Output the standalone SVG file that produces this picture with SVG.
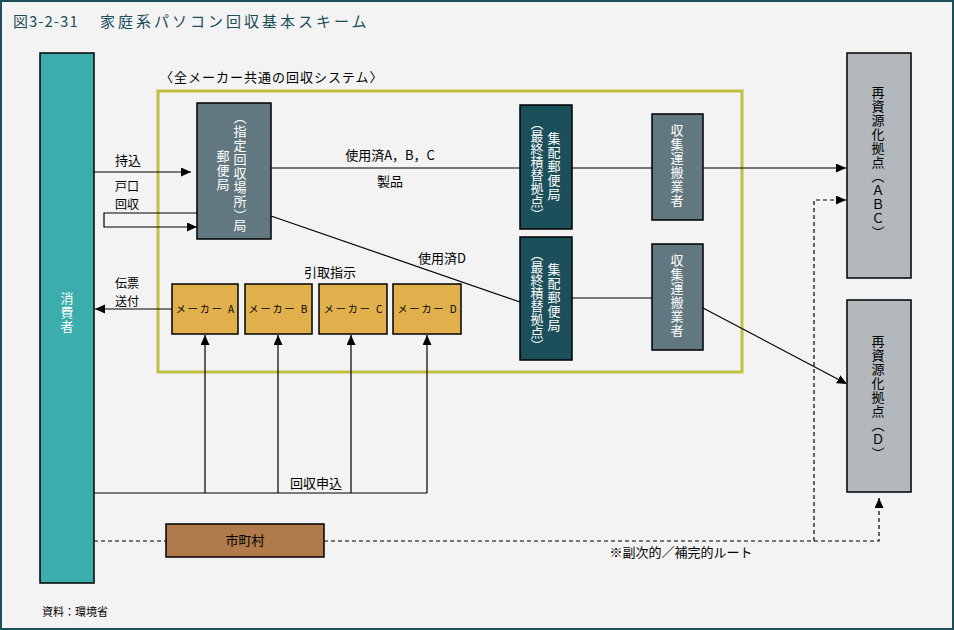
<svg xmlns="http://www.w3.org/2000/svg" width="954" height="630" viewBox="0 0 954 630">
<style>
text{font-family:"Noto Sans CJK JP","Noto Sans",sans-serif;fill:#000;}
.v{writing-mode:vertical-rl;font-size:13px;letter-spacing:1px;}
.w{fill:#fff;}
.h{font-size:13px;}
.s{font-size:12px;}
.box{stroke:#000;stroke-width:1.5;}
.ln{fill:none;stroke:#000;stroke-width:1.2;}
.dash{fill:none;stroke:#000;stroke-width:1.2;stroke-dasharray:4 3;}
.mk{font-size:10px;letter-spacing:2px;}
</style>
<defs>
<marker id="ah" markerUnits="userSpaceOnUse" markerWidth="12" markerHeight="10" refX="10" refY="4.5" orient="auto">
<path d="M0,0 L10,4.5 L0,9 z" fill="#000"/>
</marker>
</defs>
<rect x="1" y="1" width="952" height="628" fill="#f3f3f3" stroke="#1b4f5a" stroke-width="2"/>
<text x="13" y="27" style="font-size:15px;fill:#1b4f5a;letter-spacing:1px;">図3-2-31</text>
<text x="100" y="27" style="font-size:15px;fill:#1b4f5a;letter-spacing:3px;">家庭系パソコン回収基本スキーム</text>

<text x="160" y="82" class="h" style="letter-spacing:1px;">〈全メーカー共通の回収システム〉</text>
<rect id="system" x="158" y="91" width="584" height="281" fill="none" stroke="#c0c040" stroke-width="3"/>

<g id="consumer">
<rect x="40" y="53" width="54" height="530" fill="#3cadad" class="box"/>
<text x="67" y="292" class="v w">消費者</text>
</g>

<g id="postoffice">
<rect x="197" y="103" width="74" height="136" fill="#627880" class="box"/>
<text x="240" y="111" class="v w">（指定回収場所）</text>
<text x="240" y="219" class="v w">局</text>
<text x="223" y="150" class="v w">郵便局</text>
</g>

<g id="cpo1">
<rect x="520" y="105" width="52" height="124" fill="#1b4f5a" class="box"/>
<text x="554" y="132" class="v w">集配郵便局</text>
<text x="537" y="117" class="v w" style="letter-spacing:0px;">（最終積替拠点）</text>
</g>
<g id="cpo2">
<rect x="520" y="237" width="52" height="123" fill="#1b4f5a" class="box"/>
<text x="554" y="263" class="v w">集配郵便局</text>
<text x="537" y="248" class="v w" style="letter-spacing:0px;">（最終積替拠点）</text>
</g>

<g id="collector1">
<rect x="652" y="114" width="51" height="106" fill="#627880" class="box"/>
<text x="677" y="124" class="v w">収集運搬業者</text>
</g>
<g id="collector2">
<rect x="652" y="244" width="51" height="106" fill="#627880" class="box"/>
<text x="677" y="254" class="v w">収集運搬業者</text>
</g>

<g id="recycleABC">
<rect x="847" y="53" width="64" height="225" fill="#b2b8bb" class="box"/>
<text x="878" y="86" class="v">再資源化拠点（ＡＢＣ）</text>
</g>
<g id="recycleD">
<rect x="847" y="300" width="64" height="192" fill="#b2b8bb" class="box"/>
<text x="878" y="335" class="v">再資源化拠点（Ｄ）</text>
</g>

<g id="makerA"><rect x="172" y="284" width="66" height="50" fill="#e0b04c" class="box"/><text x="206" y="313" class="mk" text-anchor="middle">メーカー A</text></g>
<g id="makerB"><rect x="245" y="284" width="67" height="50" fill="#e0b04c" class="box"/><text x="279" y="313" class="mk" text-anchor="middle">メーカー B</text></g>
<g id="makerC"><rect x="319" y="284" width="68" height="50" fill="#e0b04c" class="box"/><text x="354" y="313" class="mk" text-anchor="middle">メーカー C</text></g>
<g id="makerD"><rect x="393" y="284" width="68" height="50" fill="#e0b04c" class="box"/><text x="428" y="313" class="mk" text-anchor="middle">メーカー D</text></g>

<g id="municipality">
<rect x="166" y="524" width="158" height="33" fill="#b07a4a" class="box"/>
<text x="245" y="545" class="h" text-anchor="middle">市町村</text>
</g>

<g id="connectors">
<line x1="94" y1="172" x2="191" y2="172" class="ln" marker-end="url(#ah)"/>
<path d="M197,213 H104 V227 H197" class="ln" marker-end="url(#ah)"/>
<line x1="271" y1="168" x2="520" y2="168" class="ln"/>
<line x1="572" y1="168" x2="652" y2="168" class="ln"/>
<line x1="703" y1="168" x2="846" y2="168" class="ln" marker-end="url(#ah)"/>
<line x1="271" y1="216" x2="520" y2="302" class="ln"/>
<line x1="572" y1="298" x2="652" y2="298" class="ln"/>
<line x1="703" y1="308" x2="847" y2="384" class="ln" marker-end="url(#ah)"/>
<line x1="172" y1="309" x2="95" y2="309" class="ln" marker-end="url(#ah)"/>
<path d="M94,493 H427" class="ln"/>
<line x1="205" y1="493" x2="205" y2="335" class="ln" marker-end="url(#ah)"/>
<line x1="278" y1="493" x2="278" y2="335" class="ln" marker-end="url(#ah)"/>
<line x1="351" y1="493" x2="351" y2="335" class="ln" marker-end="url(#ah)"/>
<line x1="427" y1="493" x2="427" y2="335" class="ln" marker-end="url(#ah)"/>
<line x1="94" y1="541" x2="166" y2="541" class="dash"/>
<path d="M324,541 H879 V498" class="dash" marker-end="url(#ah)"/>
<path d="M814,541 V200 H846" class="dash" marker-end="url(#ah)"/>
</g>

<text x="115" y="165" class="h">持込</text>
<text x="115" y="191" class="s">戸口</text>
<text x="115" y="209" class="s">回収</text>
<text x="390" y="160" class="h" text-anchor="middle">使用済A，B，C</text>
<text x="390" y="186" class="h" text-anchor="middle">製品</text>
<text x="442" y="263" class="h" text-anchor="middle">使用済D</text>
<text x="330" y="277" class="h" text-anchor="middle">引取指示</text>
<text x="115" y="288" class="s">伝票</text>
<text x="115" y="306" class="s">送付</text>
<text x="316" y="488" class="h" text-anchor="middle">回収申込</text>
<text x="681" y="557" class="h" text-anchor="middle">※副次的／補完的ルート</text>
<text x="42" y="616" style="font-size:11px;">資料：環境省</text>
</svg>
